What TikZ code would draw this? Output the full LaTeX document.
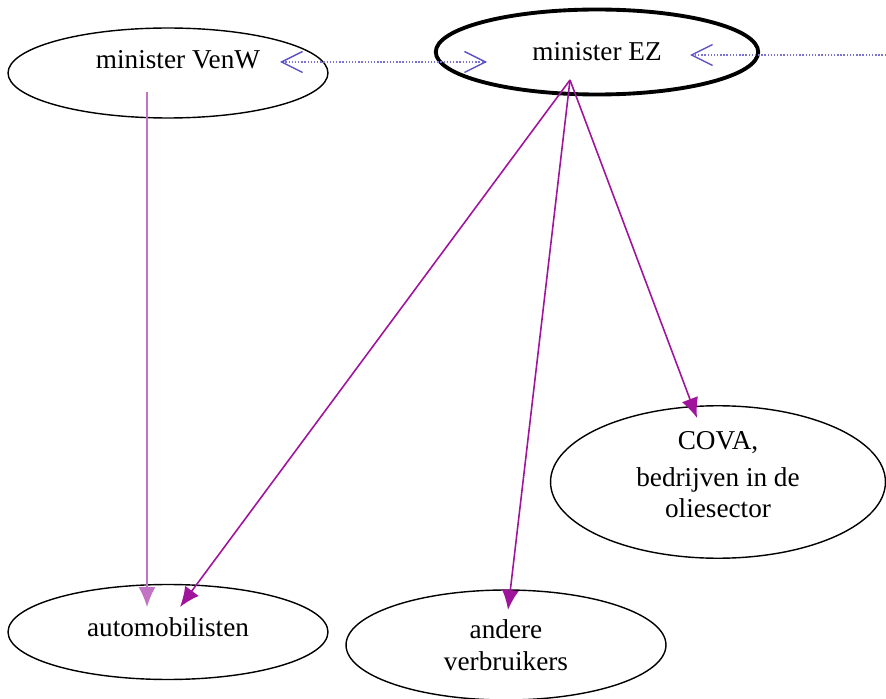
\documentclass[tikz,border=0pt]{standalone}
\usepackage{fontspec}
\setmainfont{Liberation Serif}
\usetikzlibrary{arrows.meta,calc,shapes.geometric}
\definecolor{paars}{RGB}{160,20,155}
\definecolor{lichtpaars}{RGB}{195,115,195}
\definecolor{overlegblauw}{RGB}{90,80,195}
\tikzset{
	actor/.style={ellipse, draw, line width=0.8pt, inner sep=0pt, align=center, font=\fontsize{15.5}{18}\selectfont},
	invloed/.style={draw=paars, line width=0.9pt, -{Latex[length=0.4cm,width=0.34cm]}},
	overleg/.style={draw=overlegblauw!80, dash pattern=on 0.8pt off 1pt, line width=0.8pt},
	barb/.tip={Straight Barb[length=0.42cm,width=0.42cm,line width=0.8pt,color=overlegblauw]}
}

\begin{document}
\begin{tikzpicture}[x=0.02cm,y=-0.02cm]
			%%%%% START %%%%%
			\useasboundingbox (0,0) rectangle (886,699);
			
			\node[actor, text depth=0.55cm, minimum width=6.4cm, minimum height=1.8cm] (venw) at (168,73) {\hspace*{0.4cm}minister VenW};
			\node[actor, line width=2.2pt, minimum width=6.45cm, minimum height=1.7cm] (ez) at (597,52) {minister EZ};
			\node[actor, text depth=0.3cm, minimum width=6.7cm, minimum height=3.05cm] (cova) at (718,482) {COVA,\\[0.1cm]bedrijven in de\\oliesector};
			\node[actor, text depth=0.2cm, minimum width=6.4cm, minimum height=1.9cm] (auto) at (168,632) {automobilisten};
			\node[actor, minimum width=6.4cm, minimum height=2.2cm] (andere) at (506,645) {andere\\verbruikers};
			
			\coordinate (venwvoet) at ($(venw.center)+(-21,19)$);
			\coordinate (ezvoet) at ($(ez.center)+(-27,28)$);
			\coordinate (rand) at (886,55);
			
			\draw[invloed, draw=lichtpaars] (venwvoet) -- ($(auto.center)+(-21,-25)$);
			\draw[invloed] (ezvoet) -- ($(auto.center)+(12,-25)$);
			\draw[invloed] (ezvoet) -- ($(andere.center)+(2,-35)$);
			\draw[invloed] (ezvoet) -- ($(cova.center)+(-21,-64)$);
			
			\draw[overleg, barb-barb] ($(venw.center)+(112,-11)$) -- ($(ez.center)+(-110,10)$);
			\draw[overleg, -barb] (rand) -- ($(ez.center)+(93,3)$);
			
			%%%%% END %%%%%
\end{tikzpicture}
\end{document}
